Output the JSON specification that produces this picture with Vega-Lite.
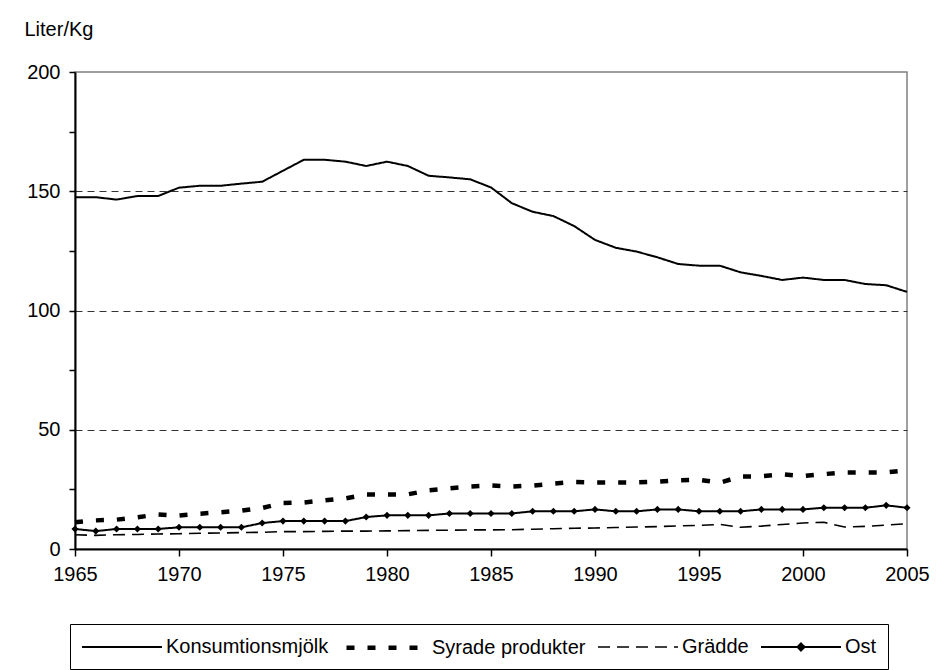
{
"$schema": "https://vega.github.io/schema/vega-lite/v6.json",
"width": 832, "height": 477,
"autosize": {"type": "none"},
"padding": {"left": 75, "top": 72, "right": 42, "bottom": 121},
"background": "white",
"config": {"view": {"stroke": "#808080", "strokeWidth": 1.5}, "font": "Liberation Sans"},
"data": {"values": [
{"year":1965,"series":"Konsumtionsmjölk","value":147.5},{"year":1966,"series":"Konsumtionsmjölk","value":147.5},{"year":1967,"series":"Konsumtionsmjölk","value":146.5},{"year":1968,"series":"Konsumtionsmjölk","value":148.0},{"year":1969,"series":"Konsumtionsmjölk","value":148.0},{"year":1970,"series":"Konsumtionsmjölk","value":151.5},{"year":1971,"series":"Konsumtionsmjölk","value":152.3},{"year":1972,"series":"Konsumtionsmjölk","value":152.3},{"year":1973,"series":"Konsumtionsmjölk","value":153.2},{"year":1974,"series":"Konsumtionsmjölk","value":154.0},{"year":1975,"series":"Konsumtionsmjölk","value":158.6},{"year":1976,"series":"Konsumtionsmjölk","value":163.2},{"year":1977,"series":"Konsumtionsmjölk","value":163.2},{"year":1978,"series":"Konsumtionsmjölk","value":162.4},{"year":1979,"series":"Konsumtionsmjölk","value":160.6},{"year":1980,"series":"Konsumtionsmjölk","value":162.4},{"year":1981,"series":"Konsumtionsmjölk","value":160.6},{"year":1982,"series":"Konsumtionsmjölk","value":156.5},{"year":1983,"series":"Konsumtionsmjölk","value":155.8},{"year":1984,"series":"Konsumtionsmjölk","value":155.0},{"year":1985,"series":"Konsumtionsmjölk","value":151.6},{"year":1986,"series":"Konsumtionsmjölk","value":145.0},{"year":1987,"series":"Konsumtionsmjölk","value":141.4},{"year":1988,"series":"Konsumtionsmjölk","value":139.6},{"year":1989,"series":"Konsumtionsmjölk","value":135.4},{"year":1990,"series":"Konsumtionsmjölk","value":129.6},{"year":1991,"series":"Konsumtionsmjölk","value":126.3},{"year":1992,"series":"Konsumtionsmjölk","value":124.7},{"year":1993,"series":"Konsumtionsmjölk","value":122.3},{"year":1994,"series":"Konsumtionsmjölk","value":119.5},{"year":1995,"series":"Konsumtionsmjölk","value":118.8},{"year":1996,"series":"Konsumtionsmjölk","value":118.8},{"year":1997,"series":"Konsumtionsmjölk","value":116.0},{"year":1998,"series":"Konsumtionsmjölk","value":114.5},{"year":1999,"series":"Konsumtionsmjölk","value":112.8},{"year":2000,"series":"Konsumtionsmjölk","value":113.8},{"year":2001,"series":"Konsumtionsmjölk","value":112.8},{"year":2002,"series":"Konsumtionsmjölk","value":112.8},{"year":2003,"series":"Konsumtionsmjölk","value":111.1},{"year":2004,"series":"Konsumtionsmjölk","value":110.6},{"year":2005,"series":"Konsumtionsmjölk","value":107.8},
{"year":1965,"series":"Syrade produkter","value":11.2},{"year":1966,"series":"Syrade produkter","value":12.0},{"year":1967,"series":"Syrade produkter","value":12.3},{"year":1968,"series":"Syrade produkter","value":13.3},{"year":1969,"series":"Syrade produkter","value":14.5},{"year":1970,"series":"Syrade produkter","value":14.0},{"year":1971,"series":"Syrade produkter","value":14.8},{"year":1972,"series":"Syrade produkter","value":15.4},{"year":1973,"series":"Syrade produkter","value":16.1},{"year":1974,"series":"Syrade produkter","value":17.2},{"year":1975,"series":"Syrade produkter","value":19.3},{"year":1976,"series":"Syrade produkter","value":19.5},{"year":1977,"series":"Syrade produkter","value":20.4},{"year":1978,"series":"Syrade produkter","value":21.2},{"year":1979,"series":"Syrade produkter","value":22.9},{"year":1980,"series":"Syrade produkter","value":22.9},{"year":1981,"series":"Syrade produkter","value":22.9},{"year":1982,"series":"Syrade produkter","value":24.6},{"year":1983,"series":"Syrade produkter","value":25.4},{"year":1984,"series":"Syrade produkter","value":26.2},{"year":1985,"series":"Syrade produkter","value":26.6},{"year":1986,"series":"Syrade produkter","value":26.2},{"year":1987,"series":"Syrade produkter","value":26.6},{"year":1988,"series":"Syrade produkter","value":27.4},{"year":1989,"series":"Syrade produkter","value":28.1},{"year":1990,"series":"Syrade produkter","value":27.9},{"year":1991,"series":"Syrade produkter","value":27.9},{"year":1992,"series":"Syrade produkter","value":27.9},{"year":1993,"series":"Syrade produkter","value":28.2},{"year":1994,"series":"Syrade produkter","value":28.8},{"year":1995,"series":"Syrade produkter","value":29.0},{"year":1996,"series":"Syrade produkter","value":27.8},{"year":1997,"series":"Syrade produkter","value":30.4},{"year":1998,"series":"Syrade produkter","value":30.5},{"year":1999,"series":"Syrade produkter","value":31.3},{"year":2000,"series":"Syrade produkter","value":30.6},{"year":2001,"series":"Syrade produkter","value":31.4},{"year":2002,"series":"Syrade produkter","value":32.1},{"year":2003,"series":"Syrade produkter","value":32.1},{"year":2004,"series":"Syrade produkter","value":32.1},{"year":2005,"series":"Syrade produkter","value":33.0},
{"year":1965,"series":"Grädde","value":6.0},{"year":1966,"series":"Grädde","value":5.7},{"year":1967,"series":"Grädde","value":6.0},{"year":1968,"series":"Grädde","value":6.1},{"year":1969,"series":"Grädde","value":6.3},{"year":1970,"series":"Grädde","value":6.4},{"year":1971,"series":"Grädde","value":6.6},{"year":1972,"series":"Grädde","value":6.7},{"year":1973,"series":"Grädde","value":6.9},{"year":1974,"series":"Grädde","value":7.0},{"year":1975,"series":"Grädde","value":7.3},{"year":1976,"series":"Grädde","value":7.3},{"year":1977,"series":"Grädde","value":7.4},{"year":1978,"series":"Grädde","value":7.5},{"year":1979,"series":"Grädde","value":7.5},{"year":1980,"series":"Grädde","value":7.6},{"year":1981,"series":"Grädde","value":7.7},{"year":1982,"series":"Grädde","value":7.8},{"year":1983,"series":"Grädde","value":7.9},{"year":1984,"series":"Grädde","value":8.0},{"year":1985,"series":"Grädde","value":8.0},{"year":1986,"series":"Grädde","value":8.1},{"year":1987,"series":"Grädde","value":8.3},{"year":1988,"series":"Grädde","value":8.5},{"year":1989,"series":"Grädde","value":8.7},{"year":1990,"series":"Grädde","value":8.8},{"year":1991,"series":"Grädde","value":9.0},{"year":1992,"series":"Grädde","value":9.2},{"year":1993,"series":"Grädde","value":9.4},{"year":1994,"series":"Grädde","value":9.7},{"year":1995,"series":"Grädde","value":9.9},{"year":1996,"series":"Grädde","value":10.3},{"year":1997,"series":"Grädde","value":9.1},{"year":1998,"series":"Grädde","value":9.6},{"year":1999,"series":"Grädde","value":10.3},{"year":2000,"series":"Grädde","value":10.9},{"year":2001,"series":"Grädde","value":11.2},{"year":2002,"series":"Grädde","value":9.2},{"year":2003,"series":"Grädde","value":9.5},{"year":2004,"series":"Grädde","value":10.0},{"year":2005,"series":"Grädde","value":10.6},
{"year":1965,"series":"Ost","value":8.4},{"year":1966,"series":"Ost","value":7.5},{"year":1967,"series":"Ost","value":8.4},{"year":1968,"series":"Ost","value":8.4},{"year":1969,"series":"Ost","value":8.4},{"year":1970,"series":"Ost","value":9.1},{"year":1971,"series":"Ost","value":9.1},{"year":1972,"series":"Ost","value":9.1},{"year":1973,"series":"Ost","value":9.1},{"year":1974,"series":"Ost","value":10.9},{"year":1975,"series":"Ost","value":11.7},{"year":1976,"series":"Ost","value":11.7},{"year":1977,"series":"Ost","value":11.7},{"year":1978,"series":"Ost","value":11.7},{"year":1979,"series":"Ost","value":13.4},{"year":1980,"series":"Ost","value":14.1},{"year":1981,"series":"Ost","value":14.1},{"year":1982,"series":"Ost","value":14.1},{"year":1983,"series":"Ost","value":14.9},{"year":1984,"series":"Ost","value":14.9},{"year":1985,"series":"Ost","value":14.9},{"year":1986,"series":"Ost","value":14.9},{"year":1987,"series":"Ost","value":15.8},{"year":1988,"series":"Ost","value":15.8},{"year":1989,"series":"Ost","value":15.8},{"year":1990,"series":"Ost","value":16.6},{"year":1991,"series":"Ost","value":15.8},{"year":1992,"series":"Ost","value":15.8},{"year":1993,"series":"Ost","value":16.6},{"year":1994,"series":"Ost","value":16.6},{"year":1995,"series":"Ost","value":15.8},{"year":1996,"series":"Ost","value":15.8},{"year":1997,"series":"Ost","value":15.8},{"year":1998,"series":"Ost","value":16.6},{"year":1999,"series":"Ost","value":16.6},{"year":2000,"series":"Ost","value":16.6},{"year":2001,"series":"Ost","value":17.3},{"year":2002,"series":"Ost","value":17.3},{"year":2003,"series":"Ost","value":17.3},{"year":2004,"series":"Ost","value":18.3},{"year":2005,"series":"Ost","value":17.3}
]},
"encoding": {
  "x": {"field": "year", "type": "quantitative", "scale": {"domain": [1965, 2005], "nice": false, "zero": false},
    "axis": {"values": [1965,1970,1975,1980,1985,1990,1995,2000,2005], "format": "d", "title": null, "grid": false,
      "domainColor": "black", "domainWidth": 2, "tickColor": "black", "tickWidth": 1.5, "tickSize": 7,
      "labelFontSize": 20, "labelColor": "black", "labelPadding": 8, "labelFlush": false, "labelOverlap": false}},
  "y": {"field": "value", "type": "quantitative", "scale": {"domain": [0, 200], "nice": false},
    "axis": {"values": [0,25,50,75,100,125,150,175,200], "labelExpr": "datum.value % 50 === 0 ? datum.label : ''",
      "title": "Liter/Kg", "titleAngle": 0, "titleX": -51, "titleY": -37, "titleAlign": "left", "titleBaseline": "alphabetic",
      "titleFontSize": 20, "titleFontWeight": "normal", "titleColor": "black",
      "domainColor": "black", "domainWidth": 2, "tickColor": "black", "tickWidth": 1.5, "tickSize": 6,
      "labelFontSize": 20, "labelColor": "black", "labelPadding": 9, "labelOverlap": false,
      "grid": true, "gridColor": "#333333", "gridWidth": 1, "gridDash": [7, 5],
      "gridOpacity": {"condition": {"test": "datum.value % 50 === 0 && datum.value > 0 && datum.value < 200", "value": 1}, "value": 0}}}
},
"layer": [
  {"mark": {"type": "line", "color": "black", "strokeCap": "butt"},
   "encoding": {
     "strokeDash": {"field": "series", "type": "nominal",
       "scale": {"domain": ["Konsumtionsmjölk", "Syrade produkter", "Grädde", "Ost"], "range": [[1, 0], [8, 13], [12, 7], [1, 0]]},
       "legend": {"title": null, "orient": "none", "legendX": -5, "legendY": 552, "direction": "horizontal",
         "symbolSize": 400, "symbolStrokeColor": "black",
         "labelFontSize": 20, "labelColor": "black", "labelFont": "Liberation Sans", "labelOffset": 63, "labelLimit": 400,
         "columnPadding": 8, "padding": 11, "strokeColor": "black", "fillColor": "white",
         "encode": {"symbols": {"update": {
           "shape": {"signal": "datum.value === 'Ost' ? 'M-1,0H7M3,-0.35L3.35,0L3,0.35L2.65,0Z' : 'M-1,0H7'"},
           "stroke": {"value": "black"},
           "opacity": {"value": 1},
           "fill": {"signal": "datum.value === 'Ost' ? 'black' : 'transparent'"}}}}}},
     "strokeWidth": {"field": "series", "type": "nominal",
       "scale": {"type": "ordinal", "domain": ["Konsumtionsmjölk", "Syrade produkter", "Grädde", "Ost"], "range": [2, 4.5, 1.6, 2]},
       "legend": {"title": null, "orient": "none", "legendX": -5, "legendY": 552, "direction": "horizontal",
         "symbolSize": 400, "symbolStrokeColor": "black",
         "labelFontSize": 20, "labelColor": "black", "labelFont": "Liberation Sans", "labelOffset": 63, "labelLimit": 400,
         "columnPadding": 8, "padding": 11, "strokeColor": "black", "fillColor": "white"}}
   }},
  {"transform": [{"filter": "datum.series === 'Ost'"}],
   "mark": {"type": "point", "shape": "diamond", "filled": true, "color": "black", "size": 50, "opacity": 1}}
]
}
